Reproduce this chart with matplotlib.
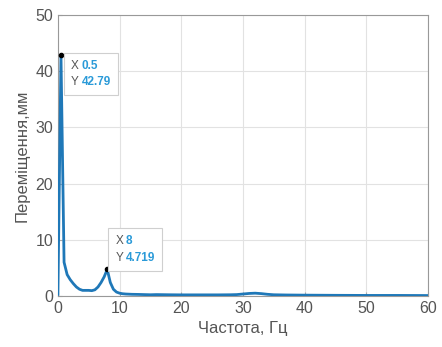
import matplotlib
matplotlib.use("Agg")
import matplotlib.pyplot as plt
from matplotlib.offsetbox import AnnotationBbox, HPacker, TextArea, VPacker

plt.rcParams["font.family"] = ["Liberation Sans", "DejaVu Sans"]

# амплітудний спектр переміщень
freq = [0, 0.5, 1, 1.5, 2, 2.5, 3, 3.5, 4, 4.5, 5, 5.5, 6, 6.5, 7, 7.5, 8, 8.5,
        9, 9.5, 10, 10.5, 11, 12, 13, 14, 15, 16, 18, 20, 22, 24, 26, 28, 29,
        30, 31, 32, 33, 34, 35, 37, 40, 45, 50, 55, 60]
disp = [0.3, 42.79, 6.0, 3.8, 2.9, 2.2, 1.6, 1.2, 1.0, 1.0, 1.0, 0.95, 1.1,
        1.6, 2.4, 3.4, 4.719, 2.4, 1.2, 0.7, 0.5, 0.4, 0.35, 0.3, 0.28, 0.25,
        0.22, 0.25, 0.22, 0.2, 0.2, 0.2, 0.2, 0.22, 0.25, 0.35, 0.45, 0.5,
        0.42, 0.3, 0.22, 0.18, 0.15, 0.12, 0.1, 0.1, 0.08]

# підказки з координатами піків
tip_x = [0.5, 8]
tip_y = [42.79, 4.719]
tip_x_txt = ["0.5", "8"]
tip_y_txt = ["42.79", "4.719"]

LINE_C = "#1f78b8"
VAL_C = "#2a9ad8"
LBL_C = "#555555"

fig = plt.figure(figsize=(4.42, 3.47), dpi=100, facecolor="white")
ax = fig.add_axes([0.131, 0.147, 0.837, 0.81])

ax.plot(freq, disp, color=LINE_C, linewidth=2.0, zorder=3)
ax.plot(tip_x, tip_y, "o", color="black", markersize=3, zorder=4)

ax.set_xlim(0, 60)
ax.set_ylim(0, 50)
ax.set_xticks(range(0, 61, 10))
ax.set_yticks(range(0, 51, 10))
ax.grid(True, color="#e2e2e2", linewidth=0.8)
ax.set_axisbelow(True)
ax.tick_params(direction="in", length=3, colors="#aaaaaa", labelcolor=LBL_C,
               labelsize=11.5)
for sp in ax.spines.values():
    sp.set_color("#999999")
    sp.set_linewidth(0.8)

ax.set_xlabel("Частота, Гц", fontsize=12, color=LBL_C, labelpad=4)
ax.set_ylabel("Переміщення,мм", fontsize=12, color=LBL_C, labelpad=4)

# зсув рамки підказки від точки, пт
offsets = [(7.2, -3.2), (5.8, 24.5)]
for x, y, xt, yt, off in zip(tip_x, tip_y, tip_x_txt, tip_y_txt, offsets):
    rows = []
    for name, val in (("X", xt), ("Y", yt)):
        rows.append(HPacker(children=[
            TextArea(name, textprops=dict(color=LBL_C, fontsize=8.5)),
            TextArea(val, textprops=dict(color=VAL_C, fontsize=8.5,
                                         fontweight="bold")),
        ], sep=2, pad=0))
    box = VPacker(children=rows, sep=3, pad=0)
    ab = AnnotationBbox(box, (x, y), xybox=off, boxcoords="offset points",
                        box_alignment=(0, 1), frameon=True, pad=0.5,
                        bboxprops=dict(edgecolor="#cfcfcf", facecolor="white",
                                       linewidth=0.8), zorder=5)
    ax.add_artist(ab)

fig.savefig("out.png", dpi=100, facecolor="white")
